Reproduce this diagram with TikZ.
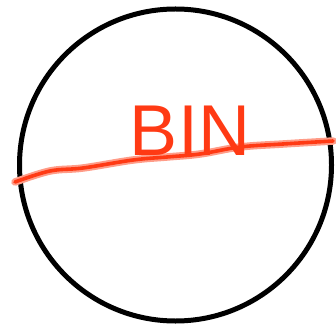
\documentclass[tikz,border=0pt]{standalone}
\usepackage{fontspec}
\setsansfont{Liberation Sans}
\usepackage{tikz}
\usetikzlibrary{positioning}
\definecolor{inkred}{HTML}{FF3A14}
\definecolor{inkhalo}{HTML}{FF9C88}

\begin{document}
\begin{tikzpicture}[x=1pt,y=-1pt,
    stroke/.style={line width=3.6pt,inkred,line cap=round,line join=round},
    halo/.style={line width=7.5pt,inkhalo,line cap=round,line join=round}]
  \useasboundingbox (0,0) rectangle (336,328);
  % the bin outline
  \draw[line width=5pt] (175.5,165) circle (156);
  % scribbled line across
  \draw[halo] plot[smooth,tension=0.6] coordinates {(15,182) (50,171) (83,168)
    (133,160) (167,157) (200,154) (240,147) (283,144) (333,141)};
  \draw[stroke] plot[smooth,tension=0.6] coordinates {(15,182) (50,171) (83,168)
    (133,160) (167,157) (200,154) (240,147) (283,144) (333,141)};
  \node[anchor=base,inner sep=0pt,text=inkred,font=\sffamily\fontsize{72}{72}\selectfont]
    (bin) at (190,156) {BIN};
\end{tikzpicture}
\end{document}
